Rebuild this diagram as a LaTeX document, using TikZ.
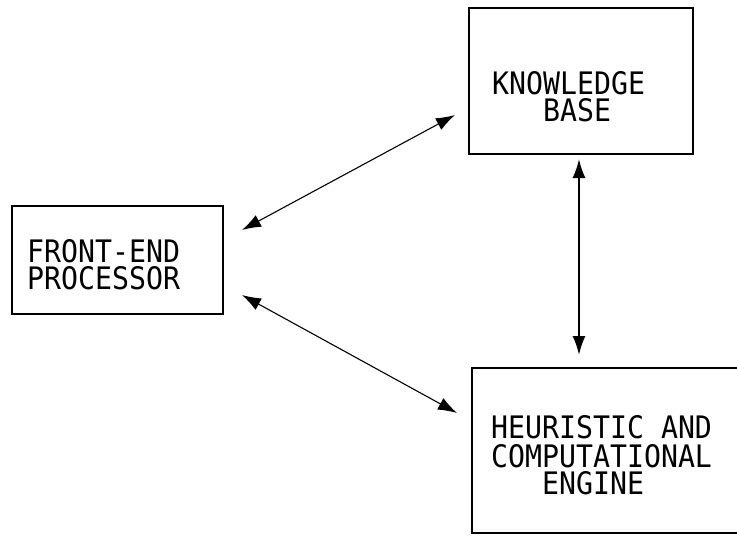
\documentclass[tikz,border=0pt]{standalone}
\usepackage{fontspec}
\newfontfamily\plotfont[FakeStretch=0.91]{DejaVu Sans Mono}
\usetikzlibrary{arrows.meta,calc}
\begin{document}
\begin{tikzpicture}[x=1pt,y=-1pt,
  box/.style={draw, line width=1.7pt, inner sep=0pt, outer sep=0pt},
  lbl/.style={anchor=north west, inner sep=0pt, align=left, font=\plotfont\fontsize{31}{27}\selectfont},
  tip/.tip={Latex[length=19pt,width=13pt]},
  link/.style={tip-tip, line width=1.1pt},
  thick link/.style={link, line width=2pt}]
\useasboundingbox (0,0) rectangle (737,536);
\clip (0,0) rectangle (737,536);
\node[box, minimum width=211pt, minimum height=108pt] (fe) at (117.5,260) {};
\node[box, minimum width=224pt, minimum height=146pt] (kb) at (581,81) {};
\node[box, minimum width=278pt, minimum height=165pt] (he) at (611,450.5) {};
\node[lbl] (fetext) at (27,239) {FRONT-END\\PROCESSOR};
\node[lbl] (kbtext) at (492,71) {KNOWLEDGE\\\hphantom{KNO}BASE};
\node[lbl] (hetext) at (491,415) {HEURISTIC AND\\[2pt]COMPUTATIONAL\\\hphantom{HEU}ENGINE};
\draw[link] ($(fe.east)+(19,-30)$) -- ($(kb.west)+(-14,34)$);
\draw[link] ($(fe.east)+(19,35)$) -- ($(he.west)+(-15,-37.5)$);
\draw[thick link] ($(kb.south)+(-2,5)$) -- ($(he.north)+(-32,-13)$);
\end{tikzpicture}
\end{document}
